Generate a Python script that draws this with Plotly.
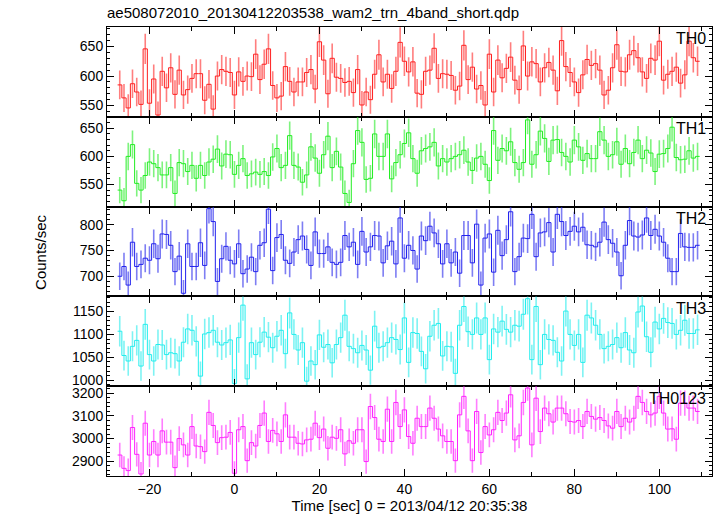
import numpy as np
import plotly.graph_objects as go
from plotly.subplots import make_subplots

# bin centres (s), 1 s bins
time = np.arange(-27, 110)

th0 = [585,563,546,587,573,552,646,554,595,534,
       608,580,614,569,610,568,577,596,604,604,
       559,586,544,600,611,608,606,568,607,591,
       600,599,637,594,620,646,584,563,566,616,
       591,573,590,590,606,611,578,658,627,570,
       630,598,596,589,591,572,611,551,573,560,
       603,636,590,603,579,608,657,625,607,624,
       571,569,608,610,647,596,604,603,601,576,
       583,652,594,615,578,584,551,637,573,627,
       597,613,632,593,577,651,600,624,621,590,
       614,623,610,575,660,616,606,590,572,602,
       628,618,621,610,568,576,614,653,608,607,
       636,643,631,607,596,630,627,659,593,603,
       608,615,588,602,659,631,625]

th1 = [540,521,600,621,552,540,566,590,587,580,
       567,567,580,534,589,587,573,584,561,584,
       566,590,595,613,583,604,603,568,584,596,
       566,569,572,568,573,566,599,614,580,584,
       637,584,581,554,567,617,597,570,603,636,
       580,609,581,534,518,587,646,625,559,561,
       640,600,600,640,560,589,603,623,642,596,
       570,610,614,617,625,583,596,590,596,600,
       603,611,590,575,597,600,586,557,646,593,
       614,610,626,589,577,589,665,586,603,645,
       632,591,629,630,607,600,590,629,617,593,
       605,596,596,644,629,600,603,626,586,614,
       587,607,629,596,611,606,573,604,605,614,
       652,598,594,595,610,597,600]

th2 = [700,719,683,766,719,723,735,731,763,734,
       782,781,760,709,739,667,763,719,719,765,
       721,831,806,690,734,758,731,724,763,705,
       714,737,709,760,765,830,711,775,781,731,
       725,747,771,778,752,721,786,744,744,757,
       727,723,727,779,757,766,723,787,747,757,
       779,778,726,759,768,724,813,735,760,750,
       714,778,769,797,784,763,724,763,726,747,
       706,779,779,726,801,683,774,782,708,789,
       740,771,825,709,738,774,773,820,738,784,
       786,804,747,820,806,779,787,797,786,795,
       761,760,757,766,805,771,764,747,701,760,
       808,778,776,780,813,779,791,778,766,735,
       709,709,783,757,756,756,760]

th3 = [1107,1054,1042,1074,1087,1031,1122,1056,1042,1078,
       1077,1056,1060,1058,1042,1083,1112,1109,1085,1009,
       1101,1104,1109,1083,1077,1082,1088,993,1093,1164,
       1003,1082,1056,1083,1105,1094,1071,1096,1109,1058,
       1147,1100,1066,1082,998,1042,1034,1099,1072,1078,
       1038,1078,1093,1142,1074,1069,1060,1076,1066,1022,
       1118,1071,1074,1082,1093,1089,1067,1136,1039,1104,
       1102,1063,1025,1096,1120,1124,1053,1074,1073,1015,
       1120,1161,1106,1100,1136,1100,1136,1045,1112,1105,
       1129,1111,1105,1120,1118,1144,1178,1045,1161,1034,
       1100,1089,1087,1061,1042,1151,1100,1076,1100,1039,
       1142,1136,1120,1100,1069,1074,1078,1093,1071,1104,
       1066,1060,1149,1162,1095,1061,1127,1112,1135,1126,
       1124,1100,1109,1131,1102,1102,1110]

th0123 = [2927,2868,2858,3049,2930,2843,3068,2927,2987,2927,
          3034,2984,2984,2871,3000,2972,2927,3053,2967,2964,
          2942,3116,3058,2982,3004,3006,3027,2846,3039,3053,
          2902,2982,2967,3058,3113,2987,3036,3021,2987,3105,
          3006,3006,2979,2976,2994,2997,3068,3004,3042,2957,
          3006,3001,3039,2932,2990,2979,3039,3039,2898,3142,
          3093,2997,2987,3130,2987,3160,3053,3127,3009,2979,
          3090,3053,3053,3135,3090,3042,3012,2987,2987,2902,
          3105,3187,3034,2902,3120,2938,3053,3016,3039,3116,
          3080,3113,3194,2994,3012,3160,3224,2972,3179,3031,
          3135,3110,3073,3135,3135,3110,3076,3073,3080,3053,
          3120,3098,3086,3093,3080,3056,3046,3120,3053,3090,
          3073,3090,3187,3160,3120,3105,3113,3187,3113,3042,
          3043,2997,3157,3157,3135,3135,3120]

band_names = ["TH0", "TH1", "TH2", "TH3", "TH0123"]
series = [th0, th1, th2, th3, th0123]
colors = ["#ff2020", "#22ee22", "#2222ee", "#22eeee", "#ff22ff"]
err_colors = ["rgba(255,40,40,0.6)", "rgba(40,235,40,0.6)", "rgba(40,40,235,0.6)",
              "rgba(40,235,235,0.6)", "rgba(255,40,255,0.6)"]
y_ranges = [[531, 683], [510.6, 670.5], [661, 835], [987, 1183], [2834, 3232]]
y_ticks = [[550, 600, 650], [550, 600, 650], [700, 750, 800],
           [1000, 1050, 1100, 1150], [2900, 3000, 3100, 3200]]
y_minor = [10, 10, 10, 10, 20]
x_range = [-30.0, 112.4]
x_ticks = [-20, 0, 20, 40, 60, 80, 100]

FONT = "Liberation Sans, Arial, Helvetica, sans-serif"

fig = make_subplots(rows=5, cols=1, shared_xaxes=True, vertical_spacing=0)

for i, (vals, col, ecol) in enumerate(zip(series, colors, err_colors)):
    v = np.asarray(vals, dtype=float)
    t = time[:len(v)]
    err = np.sqrt(v)  # Poisson error for 1 s bins
    # step outline: left edges + final right edge
    edges = np.append(t - 0.5, t[-1] + 0.5)
    steps = np.append(v, v[-1])
    fig.add_trace(go.Scatter(x=t, y=v, mode="markers",
                             marker=dict(size=0.1, color=ecol),
                             error_y=dict(type="data", array=err, visible=True,
                                          color=ecol, thickness=1.6, width=0),
                             showlegend=False, hoverinfo="skip"),
                  row=i + 1, col=1)
    fig.add_trace(go.Scatter(x=edges, y=steps, mode="lines", line_shape="hv",
                             line=dict(color=col, width=1),
                             showlegend=False),
                  row=i + 1, col=1)

axis_common = dict(showline=True, linecolor="black", linewidth=1, mirror="allticks",
                   ticks="inside", tickcolor="black", showgrid=False, zeroline=False,
                   tickfont=dict(family=FONT, size=14, color="black"))

for i in range(5):
    fig.update_yaxes(range=y_ranges[i], tickvals=y_ticks[i], ticklen=7,
                     minor=dict(ticks="inside", dtick=y_minor[i], ticklen=3, tickcolor="black"),
                     **axis_common, row=i + 1, col=1)
    fig.update_xaxes(range=x_range, tickvals=x_ticks, ticklen=7,
                     minor=dict(ticks="inside", dtick=10, ticklen=4, tickcolor="black"),
                     **axis_common, row=i + 1, col=1)

fig.update_xaxes(title=dict(text="Time [sec] 0 = 2013/04/12 20:35:38",
                            font=dict(family=FONT, size=15, color="black"), standoff=4),
                 row=5, col=1)

# panel labels
for i, name in enumerate(band_names):
    yref = "y domain" if i == 0 else f"y{i+1} domain"
    xref = "x domain" if i == 0 else f"x{i+1} domain"
    fig.add_annotation(text=name, xref=xref, yref=yref, x=0.993, y=0.985,
                       xanchor="right", yanchor="top", showarrow=False,
                       font=dict(family=FONT, size=16, color="black"))

fig.add_annotation(text="Counts/sec", xref="paper", yref="paper", x=-0.11, y=0.5,
                   textangle=-90, showarrow=False, xanchor="center", yanchor="middle",
                   font=dict(family=FONT, size=15, color="black"))

fig.update_layout(
    width=717, height=516,
    margin=dict(l=107, r=5, t=27, b=40),
    paper_bgcolor="white", plot_bgcolor="white",
    title=dict(text="ae508072010_20130412203538_wam2_trn_4band_short.qdp",
               x=0, xref="paper", xanchor="left", y=1 - 13 / 516, yref="container",
               yanchor="middle", font=dict(family=FONT, size=15, color="black")),
)

fig.write_html("out.html", config={"displayModeBar": False},
               post_script="document.body.style.margin='0';document.body.style.overflow='hidden';")
